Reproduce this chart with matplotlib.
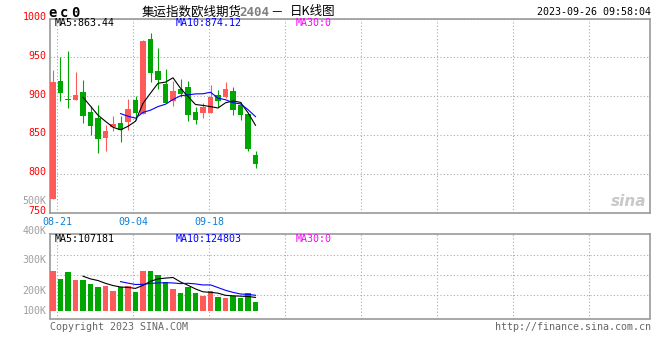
import matplotlib
matplotlib.use('Agg')
import matplotlib.pyplot as plt
import numpy as np
import pandas as pd
from matplotlib.transforms import ScaledTranslation

# ---------------- data ----------------
dates = ['08-18', '08-21', '08-22', '08-23', '08-24', '08-25', '08-28', '08-29',
         '08-30', '08-31', '09-01', '09-04', '09-05', '09-06', '09-07', '09-08',
         '09-11', '09-12', '09-13', '09-14', '09-15', '09-18', '09-19', '09-20',
         '09-21', '09-22', '09-25', '09-26']
opens = [768.4, 919.2, 895.6, 894.7, 905.9, 880.2, 872.4, 847.0, 860.4, 865.6,
         866.9, 895.6, 877.6, 974.2, 932.1, 916.2, 893.4, 909.8, 911.5, 879.3,
         878.0, 878.5, 902.1, 898.6, 907.2, 889.3, 877.6, 824.7]
highs = [934.3, 950.6, 958.4, 931.7, 921.4, 888.0, 889.3, 863.4, 875.0, 874.6,
         896.5, 900.8, 972.9, 981.6, 962.2, 935.6, 919.2, 922.3, 920.1, 886.2,
         891.4, 915.0, 908.5, 917.9, 911.5, 892.7, 878.5, 829.9]
lows = [768.4, 893.4, 884.4, 894.7, 865.1, 850.5, 827.7, 830.3, 854.8, 841.9,
        857.0, 869.8, 877.6, 917.9, 909.8, 891.0, 887.9, 899.1, 867.7, 864.7,
        871.5, 878.5, 886.2, 897.3, 876.3, 869.8, 830.3, 808.4]
closes = [917.9, 903.7, 895.6, 902.1, 874.1, 861.2, 845.7, 855.7, 864.7, 857.0,
          884.0, 878.5, 970.7, 930.0, 920.5, 891.4, 906.3, 903.4, 876.3, 869.8,
          885.7, 898.6, 894.3, 909.8, 881.8, 876.4, 832.5, 813.1]
volumes_k = [324, 259, 313, 249, 251, 216, 192, 200, 160, 192,
             200, 151, 324, 324, 289, 232, 176, 143, 190, 140,
             116, 156, 108, 103, 119, 103, 143, 70]

price_ticks = [750, 800, 850, 900, 950, 1000]
price_tick_labels = ['750', '800', '850', '900', '950', '1000']
date_tick_labels = ['08-21', '09-04', '09-18']
vol_axis_labels = ['500K', '400K', '300K', '200K', '100K']
price_ma_texts = ['MA5:863.44', 'MA10:874.12', 'MA30:0']
vol_ma_texts = ['MA5:107181', 'MA10:124803', 'MA30:0']
code_text = 'ec0'
title_parts = ['集运指数欧线期货', '2404', '－', '日K线图']
timestamp = '2023-09-26 09:58:04'
copyright_text = 'Copyright 2023 SINA.COM'
url_text = 'http://finance.sina.com.cn'

# ---------------- style ----------------
W, H = 660, 360
RED = '#ff5a5a'
GREEN = '#00a600'
GRID = '#aaaaaa'
SPINE = '#999999'
MONO = ['DejaVu Sans Mono']
CJK = ['Noto Sans CJK SC', 'DejaVu Sans']
FS = 7.2

def fx(px):
    return px / W

def fy(py):
    return 1 - py / H

fig = plt.figure(figsize=(W / 100, H / 100), dpi=100)
fig.patch.set_facecolor('white')

ax = fig.add_axes([fx(50.5), fy(213), (649.5 - 50.5) / W, (213 - 18.5) / H])
axv = fig.add_axes([fx(50.5), fy(318.5), (649.5 - 50.5) / W, (318.5 - 234) / H])

n = len(closes)
x = np.arange(n)
o = np.array(opens); c = np.array(closes); hi = np.array(highs); lo = np.array(lows)
up = c > o
colors = [RED if u else GREEN for u in up]

# x layout: bar spacing 7.5 px, first bar centre at px 53
xmin = (50.5 - 53) / 7.5
xmax = (649.5 - 53) / 7.5
grid_x = 0.573 + 10.133 * np.arange(8)

# -------- price panel --------
ax.vlines(x, lo, hi, colors=colors, linewidth=0.8, zorder=3)
body_h = np.maximum(np.abs(c - o), 1.3)
ax.bar(x, body_h, bottom=np.minimum(o, c), width=0.78, color=colors,
       linewidth=0, zorder=4)
s = pd.Series(c)
ax.plot(x, s.rolling(5).mean(), color='black', lw=0.8, zorder=5)
ax.plot(x, s.rolling(10).mean(), color='#0000ff', lw=0.8, zorder=5)

ax.set_xlim(xmin, xmax)
ax.set_ylim(750, 1000)
ax.set_yticks(price_ticks)
ax.set_yticklabels(price_tick_labels)
ax.set_xticks(grid_x)
ax.set_xticklabels(date_tick_labels + [''] * (len(grid_x) - len(date_tick_labels)))
ax.tick_params(axis='y', length=0, pad=3, labelcolor='#ff0000', labelsize=FS)
ax.tick_params(axis='x', length=0, pad=3, labelcolor='#0a80d8', labelsize=FS)
for lab in ax.get_yticklabels() + ax.get_xticklabels():
    lab.set_family(MONO)
for lab in ax.get_yticklabels():
    lab.set_transform(lab.get_transform() + ScaledTranslation(0, 2 / 72, fig.dpi_scale_trans))
ax.grid(True, color=GRID, linestyle=(0, (1, 2)), linewidth=0.8)
ax.set_axisbelow(True)

# -------- volume panel --------
v = np.array(volumes_k, dtype=float)
axv.bar(x, v, width=0.78, color=colors, linewidth=0, zorder=3)
sv = pd.Series(v)
axv.plot(x, sv.rolling(5).mean(), color='black', lw=0.8, zorder=4)
axv.plot(x, sv.rolling(10).mean(), color='#0000ff', lw=0.8, zorder=4)
axv.set_xlim(xmin, xmax)
axv.set_ylim(-63.2, 621.3)
axv.set_xticks(grid_x)
axv.set_yticks([124.7, 286.7, 448.7])
axv.set_xticklabels([])
axv.set_yticklabels([])
axv.tick_params(length=0)
axv.grid(True, color=GRID, linestyle=(0, (1, 2)), linewidth=0.8)
axv.set_axisbelow(True)

for a in (ax, axv):
    for sp in a.spines.values():
        sp.set_color(SPINE)
        sp.set_linewidth(1.2)

# -------- texts --------
vol_label_y = [200.7, 230.7, 260.0, 290.7, 310.7]
for lab, py in zip(vol_axis_labels, vol_label_y):
    fig.text(fx(46.7), fy(py), lab, ha='right', va='center', color='#a0a0a0',
             fontsize=FS, family=MONO)

ma_x = [55, 175.5, 296]
ma_cols = ['black', '#0000ff', '#ff00ff']
for t, px_, col in zip(price_ma_texts, ma_x, ma_cols):
    fig.text(fx(px_), fy(23.5), t, ha='left', va='center', color=col, fontsize=FS, family=MONO)
for t, px_, col in zip(vol_ma_texts, ma_x, ma_cols):
    fig.text(fx(px_), fy(238.5), t, ha='left', va='center', color=col, fontsize=FS, family=MONO)

# code label, letter-spaced like the original bitmap font
for i, ch in enumerate(code_text):
    fig.text(fx(48.5 + 11.5 * i), fy(17), ch, ha='left', va='baseline', fontsize=10,
             fontweight='bold', family=MONO)

title_x = [141.7, 239, 270, 289.5]
title_cols = ['black', '#808080', 'black', 'black']
title_fams = [CJK, MONO, CJK, CJK]
title_wts = ['normal', 'bold', 'normal', 'normal']
for t, px_, col, fam, wt in zip(title_parts, title_x, title_cols, title_fams, title_wts):
    fig.text(fx(px_), fy(12), t, ha='left', va='center', color=col, fontsize=9,
             family=fam, fontweight=wt)

fig.text(fx(651), fy(12), timestamp, ha='right', va='center', fontsize=FS, family=MONO)
fig.text(fx(50), fy(327.5), copyright_text, ha='left', va='center', fontsize=FS,
         family=MONO, color='#666666')
fig.text(fx(651), fy(327.5), url_text, ha='right', va='center', fontsize=FS,
         family=MONO, color='#666666')

# watermark
fig.text(fx(646), fy(201), 'sina', ha='right', va='center', fontsize=11,
         fontweight='bold', style='italic', color='#c8c8c8')

fig.savefig('out.png', dpi=100, facecolor='white')
